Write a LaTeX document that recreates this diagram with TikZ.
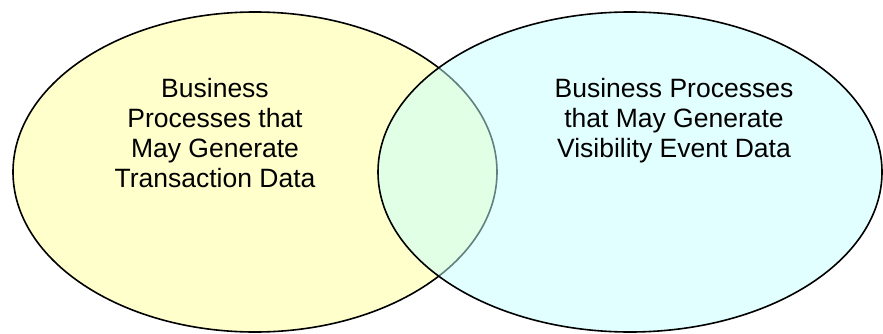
\documentclass[tikz,border=0pt]{standalone}
\usepackage{fontspec}
\setmainfont{Liberation Sans}
\begin{document}
\begin{tikzpicture}[x=1pt,y=1pt,
  setbox/.style={draw=black, line width=1.6pt},
  label/.style={align=center, inner sep=0pt, anchor=north, font=\fontsize{26.5}{30}\selectfont}]
\useasboundingbox (0,0) rectangle (883,333);
\draw[setbox, fill={rgb,255:red,255;green,255;blue,204}] (255,161) ellipse [x radius=242, y radius=160];
\draw[setbox, fill={rgb,255:red,196;green,255;blue,255}, fill opacity=0.5] (630,161) ellipse [x radius=252, y radius=160];
\node[label] (left) at (215,255) {Business\\Processes that\\May Generate\\Transaction Data};
\node[label] (right) at (674,255) {Business Processes\\that May Generate\\Visibility Event Data};
\end{tikzpicture}
\end{document}
